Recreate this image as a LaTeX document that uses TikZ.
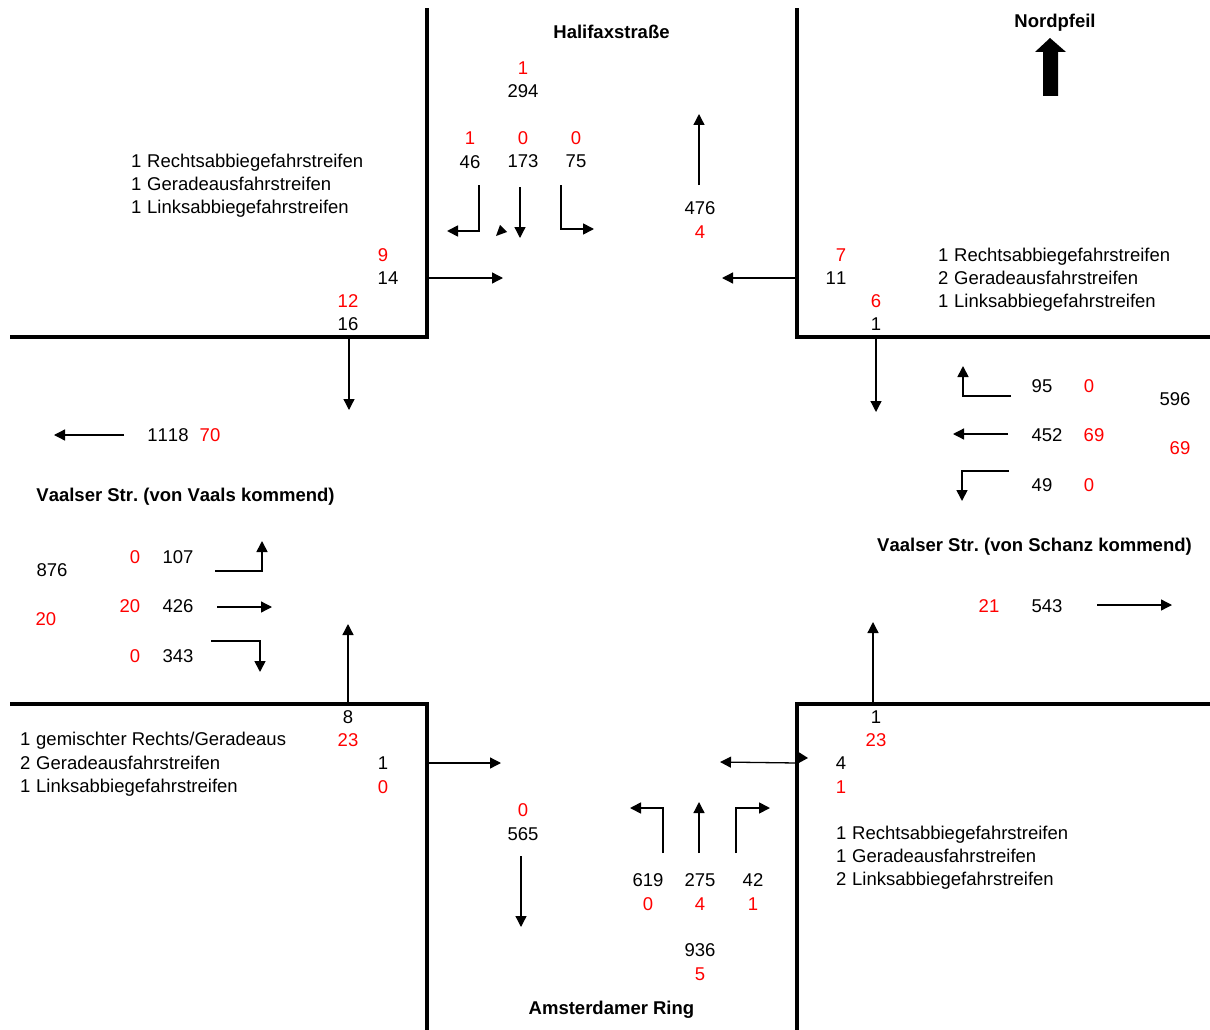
\documentclass[tikz,border=0pt]{standalone}
\usepackage{fontspec}
\setmainfont[Kerning=Off]{Liberation Sans}
\usetikzlibrary{arrows.meta}
\definecolor{redtxt}{RGB}{255,0,0}
\frenchspacing
\tikzset{
  wall/.style={line width=4pt,line cap=rect},
  flow/.style={line width=1.3pt,-{Triangle[length=11pt,width=11pt]}},
  bent/.style={flow,line width=1.7pt},
  tipfill/.style={fill=black,draw=none},
  txt/.style={font=\fontsize{18.5}{18.5}\selectfont,inner sep=0pt,anchor=center},
  rednum/.style={txt,text=redtxt},
  lane/.style={txt,anchor=base west},
  title/.style={txt,anchor=base,font=\fontsize{18.5}{18.5}\selectfont\bfseries}
}
\begin{document}
\begin{tikzpicture}[x=1pt,y=-1pt]
\useasboundingbox (0,0) rectangle (1210,1030);
% walls
\draw[wall] (427,10) -- (427,337) -- (12,337);
\draw[wall] (797,10) -- (797,337) -- (1208,337);
\draw[wall] (12,704) -- (427,704) -- (427,1028);
\draw[wall] (1208,704) -- (797,704) -- (797,1028);
% north
\node[title] (tN) at (611.5,38.5) {Halifaxstraße};
\node[rednum] (n1) at (523,68) {1};
\node[txt] (n2) at (523,91) {294};
\node[rednum] (n3) at (470,138) {1};
\node[rednum] (n4) at (523,138) {0};
\node[rednum] (n5) at (576,138) {0};
\node[txt] (n6) at (470,162) {46};
\node[txt] (n7) at (523,161) {173};
\node[txt] (n8) at (576,161) {75};
\node[txt] (n9) at (700,208) {476};
\node[rednum] (n10) at (700,232) {4};
\draw[bent] (479,185) -- (479,231) -- (447,231);
\draw[flow] (520,187) -- (520,238);
\draw[bent] (561,185) -- (561,229) -- (594,229);
\draw[flow] (699,185) -- (699,114);
\fill[tipfill] (500,225) -- (507,232) -- (496,236) -- cycle;
% north-west
\node[lane] (l1) at (131,167.6) {1};\node[lane] at (147,167.6) {Rechtsabbiegefahrstreifen};
\node[lane] (l2) at (131,190) {1};\node[lane] at (147,190) {Geradeausfahrstreifen};
\node[lane] (l3) at (131,213) {1};\node[lane] at (147,213) {Linksabbiegefahrstreifen};
\node[rednum] (w1) at (383,255) {9};
\node[txt] (w2) at (388,278) {14};
\node[rednum] (w3) at (348,301) {12};
\node[txt] (w4) at (348,324) {16};
\draw[flow] (429,278) -- (503,278);
\draw[flow] (349,339) -- (349,410);
% north-east
\node[title] (tNp) at (1055,28) {Nordpfeil};
\fill (1043,96) -- (1058,96) -- (1058,52) -- (1066,52) -- (1050,38) -- (1035,52) -- (1043,52) -- cycle;
\node[rednum] (e1) at (841,255) {7};
\node[txt] (e2) at (836,278) {11};
\node[rednum] (e3) at (876,301) {6};
\node[txt] (e4) at (876,324) {1};
\node[lane] at (938,261) {1};\node[lane] at (954,261) {Rechtsabbiegefahrstreifen};
\node[lane] at (938,284) {2};\node[lane] at (954,284) {Geradeausfahrstreifen};
\node[lane] at (938,307) {1};\node[lane] at (954,307) {Linksabbiegefahrstreifen};
\draw[flow] (795,278) -- (722,278);
\draw[flow] (876,339) -- (876,412);
% east
\node[txt] (a1) at (1042,386) {95};
\node[rednum] (a2) at (1089,386) {0};
\node[txt] (a3) at (1047,435) {452};
\node[rednum] (a4) at (1094,435) {69};
\node[txt] (a5) at (1042,485) {49};
\node[rednum] (a6) at (1089,485) {0};
\node[txt] (a7) at (1175,399) {596};
\node[rednum] (a8) at (1180,448) {69};
\draw[bent] (1011,396) -- (963,396) -- (963,366);
\draw[flow] (1008,434) -- (953,434);
\draw[bent] (1009,471) -- (962,471) -- (962,501);
\node[title] (tE) at (1034.5,551) {Vaalser Str. (von Schanz kommend)};
\node[rednum] (a9) at (989,606) {21};
\node[txt] (a10) at (1047,606) {543};
\draw[flow] (1097,605) -- (1172,605);
% west
\draw[flow] (124,435) -- (54,435);
\node[txt] (b1) at (168,435) {1118};
\node[rednum] (b2) at (210,435) {70};
\node[title] (tW) at (185.5,501) {Vaalser Str. (von Vaals kommend)};
\node[rednum] (b3) at (135,557) {0};
\node[txt] (b4) at (178,557) {107};
\node[txt] (b5) at (52,570) {876};
\node[rednum] (b6) at (130,606) {20};
\node[txt] (b7) at (178,606) {426};
\node[rednum] (b8) at (46,619) {20};
\node[rednum] (b9) at (135,656) {0};
\node[txt] (b10) at (178,656) {343};
\draw[bent] (215,571) -- (262,571) -- (262,541);
\draw[flow] (217,607) -- (272,607);
\draw[bent] (211,641) -- (260,641) -- (260,672);
\draw[flow] (348,702) -- (348,624);
% south-west
\node[txt] (c1) at (348,717) {8};
\node[rednum] (c2) at (348,740) {23};
\node[txt] (c3) at (383,763) {1};
\node[rednum] (c4) at (383,787) {0};
\node[lane] at (20,745.5) {1};\node[lane] at (36,745.5) {gemischter Rechts/Geradeaus};
\node[lane] at (20,769) {2};\node[lane] at (36,769) {Geradeausfahrstreifen};
\node[lane] at (20,792) {1};\node[lane] at (36,792) {Linksabbiegefahrstreifen};
\draw[flow] (429,763) -- (501,763);
% south
\node[rednum] (s1) at (523,810) {0};
\node[txt] (s2) at (523,834) {565};
\draw[flow] (521,856) -- (521,927);
\draw[bent] (663,853) -- (663,808) -- (630,808);
\draw[flow] (699,853) -- (699,802);
\draw[bent] (736,853) -- (736,808) -- (770,808);
\node[txt] (s3) at (648,880) {619};
\node[txt] (s4) at (700,880) {275};
\node[txt] (s5) at (753,880) {42};
\node[rednum] (s6) at (648,904) {0};
\node[rednum] (s7) at (700,904) {4};
\node[rednum] (s8) at (753,904) {1};
\node[txt] (s9) at (700,950) {936};
\node[rednum] (s10) at (700,974) {5};
\node[title] (tS) at (611.5,1014) {Amsterdamer Ring};
% south-east
\node[txt] (d1) at (876,717) {1};
\node[rednum] (d2) at (876,740) {23};
\node[txt] (d3) at (841,763) {4};
\node[rednum] (d4) at (841,787) {1};
\node[lane] at (836,839) {1};\node[lane] at (852,839) {Rechtsabbiegefahrstreifen};
\node[lane] at (836,862) {1};\node[lane] at (852,862) {Geradeausfahrstreifen};
\node[lane] at (836,885) {2};\node[lane] at (852,885) {Linksabbiegefahrstreifen};
\draw[flow] (873,702) -- (873,622);
\draw[flow] (797,763) -- (720,762);
\fill[tipfill] (797,751) -- (808,758) -- (797,764) -- cycle;
\end{tikzpicture}
\end{document}
